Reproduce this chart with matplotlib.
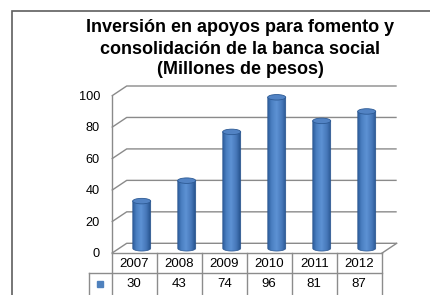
import numpy as np
import matplotlib.pyplot as plt
from matplotlib.patches import Polygon, Ellipse, Rectangle
from matplotlib.colors import LinearSegmentedColormap

plt.rcParams['font.family'] = ['Liberation Sans', 'DejaVu Sans']

anios = ['2007', '2008', '2009', '2010', '2011', '2012']
valores = [30, 43, 74, 96, 81, 87]
ticks = [0, 20, 40, 60, 80, 100]
titulo = ['Inversión en apoyos para fomento y', 'consolidación de la banca social', '(Millones de pesos)']

W, H = 431, 295
fig = plt.figure(figsize=(W / 100, H / 100), dpi=100)
ax = fig.add_axes([0, 0, 1, 1])
ax.axis('off')

# layout of the front plane in pixels
x0_px, col_px = 111.7, 45.0
y0_px, y100_px = 253.3, 96.0
upx = (y0_px - y100_px) / 100.0
xmin = -0.5 - x0_px / col_px
ymin = -(H - y0_px) / upx

DX = 15 / col_px      # depth of the 3d box
DY = 10 / upx
ROW = 19.5 / upx      # table row height
n = len(anios)
grid_c = '#8a8a8a'

# walls / gridlines
for t in ticks:
    ax.plot([-0.5, -0.5 + DX, n - 0.5 + DX], [t, t + DY, t + DY], color=grid_c, lw=1.0,
            solid_capstyle='butt', zorder=1)
    ax.text(-0.5 - 11.7 / col_px, t - 0.6, str(t), ha='right', va='center', fontsize=9.2, color='#000000')
ax.plot([-0.5, -0.5], [0, 100], color=grid_c, lw=1.0, zorder=1)
ax.plot([n - 0.5, n - 0.5 + DX], [0, DY], color=grid_c, lw=1.0, zorder=1)

# cylinders
cmap = LinearSegmentedColormap.from_list('cil', [(0, '#2f5f9e'), (0.18, '#4a7fc1'), (0.45, '#5d92d4'),
                                                 (0.75, '#4677b8'), (1.0, '#23508a')])
grad = np.linspace(0, 1, 64).reshape(1, -1)
w = 18 / col_px
eh = 5.5 / upx
for i, v in enumerate(valores):
    xc = i + DX / 2
    base = DY / 2
    top = v + DY / 2
    th = np.linspace(np.pi, 2 * np.pi, 30)
    pts = [(xc - w / 2, top)] + [(xc + w / 2 * np.cos(a), base + eh / 2 * np.sin(a)) for a in th] + [(xc + w / 2, top)]
    body = Polygon(pts, closed=True, facecolor='none', edgecolor='#2b5690', lw=0.5, zorder=3)
    im = ax.imshow(grad, cmap=cmap, extent=[xc - w / 2, xc + w / 2, base - eh, top], aspect='auto', zorder=2)
    ax.add_patch(body)
    im.set_clip_path(body)
    ax.add_patch(Ellipse((xc, top), w, eh, facecolor='#5283c4', edgecolor='#2d5a94', lw=0.6, zorder=4))

# data table
line_c = '#8c8c8c'
ybot = ymin - 1
xleg = -0.5 - 22.7 / col_px
ax.plot([-0.5, n - 0.5], [0, 0], color=line_c, lw=1.0, zorder=1)
ax.plot([xleg, n - 0.5], [-ROW, -ROW], color=line_c, lw=1.0, zorder=1)
for k in range(n + 1):
    ax.plot([k - 0.5, k - 0.5], [0, ybot], color=line_c, lw=1.0, zorder=1)
ax.plot([xleg, xleg], [-ROW, ybot], color=line_c, lw=1.0, zorder=1)
for i in range(n):
    ax.text(i, -ROW / 2 - 0.8, anios[i], ha='center', va='center', fontsize=9.5)
    ax.text(i, -1.5 * ROW - 0.8, str(valores[i]), ha='center', va='center', fontsize=9.5)
ax.plot([(xleg - 0.5) / 2], [-1.55 * ROW], marker='s', ms=4.2, color='#4f81bd', mec='#4f81bd')

ax.set_xlim(xmin, xmin + W / col_px)
ax.set_ylim(ymin, ymin + H / upx)

# chart frame
fig.patches.append(Rectangle((12 / W, -0.1), 1.2, 1.1 - 11 / H, transform=fig.transFigure,
                             fill=False, edgecolor='#5f5f5f', lw=1.2))

for k, linea in enumerate(titulo):
    fig.text(240 / W, 1 - (32.5 + 21 * k) / H, linea, ha='center', va='baseline', fontsize=13,
             fontweight='bold')

plt.savefig('out.png', dpi=100)
